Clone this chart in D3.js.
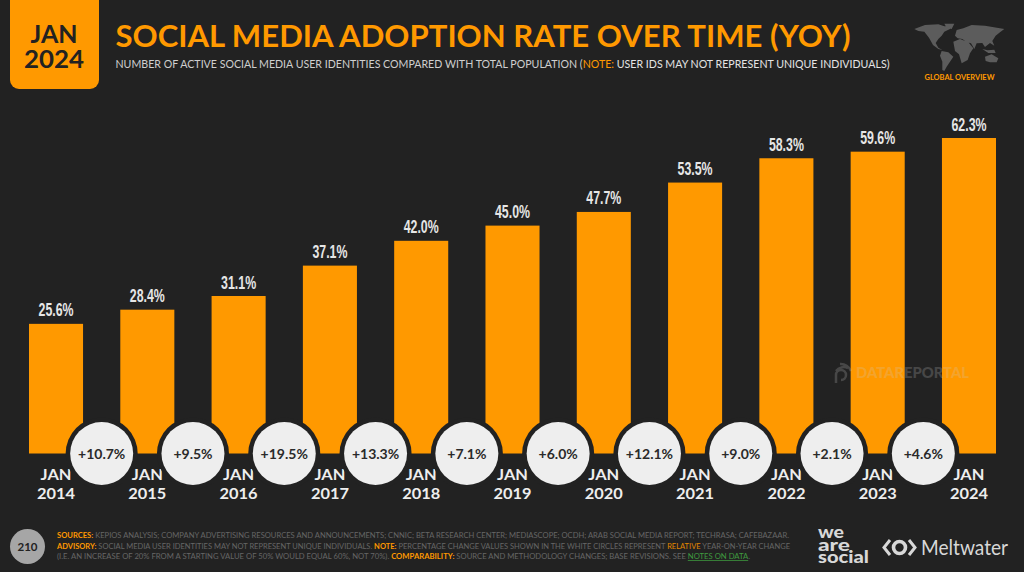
<!DOCTYPE html>
<html>
<head>
<meta charset="utf-8">
<script src="https://cdn.jsdelivr.net/npm/d3@7"></script>
<style>
  html, body { margin: 0; padding: 0; background: #222222; overflow: hidden; }
  svg { display: block; }
  text { font-family: Lato, "Open Sans", sans-serif; }
</style>
</head>
<body>
<svg id="chart" width="1024" height="572"></svg>
<script>
const years = ["2014", "2015", "2016", "2017", "2018", "2019", "2020", "2021", "2022", "2023", "2024"];
const adoption = [25.6, 28.4, 31.1, 37.1, 42.0, 45.0, 47.7, 53.5, 58.3, 59.6, 62.3];
const changes = ["+10.7%", "+9.5%", "+19.5%", "+13.3%", "+7.1%", "+6.0%", "+12.1%", "+9.0%", "+2.1%", "+4.6%"];

const orange = "#ff9900";
const bg = "#222222";
const svg = d3.select("#chart");

// header badge
svg.append("path")
  .attr("d", "M10,0H99V80a9,9 0 0 1 -9,9H19a9,9 0 0 1 -9,-9Z")
  .attr("fill", orange);
svg.append("text").attr("x", 54).attr("y", 43).attr("text-anchor", "middle")
  .attr("font-size", 25).attr("font-weight", 700).attr("fill", bg)
  .attr("textLength", 47).attr("lengthAdjust", "spacingAndGlyphs").text("JAN");
svg.append("text").attr("x", 54).attr("y", 68).attr("text-anchor", "middle")
  .attr("font-size", 25).attr("font-weight", 700).attr("fill", bg)
  .attr("textLength", 60).attr("lengthAdjust", "spacingAndGlyphs").text("2024");

// title
svg.append("text").attr("x", 115.5).attr("y", 47)
  .attr("font-size", 31).attr("font-weight", 700).attr("fill", orange)
  .attr("textLength", 735).attr("lengthAdjust", "spacingAndGlyphs")
  .text("SOCIAL MEDIA ADOPTION RATE OVER TIME (YOY)");

const sub = svg.append("text").attr("x", 115.5).attr("y", 67.5)
  .attr("font-size", 10.5).attr("fill", "#cfcfcf")
  .attr("textLength", 774).attr("lengthAdjust", "spacingAndGlyphs");
sub.append("tspan").text("NUMBER OF ACTIVE SOCIAL MEDIA USER IDENTITIES COMPARED WITH TOTAL POPULATION (");
sub.append("tspan").attr("fill", orange).text("NOTE:");
sub.append("tspan").attr("fill", "#e4e4e4").text(" USER IDS MAY NOT REPRESENT UNIQUE INDIVIDUALS)");

// world map, rough outline
svg.append("path")
  .attr("transform", "translate(905,15) scale(0.3333)")
  .attr("fill", "#5c5c5c")
  .attr("d", "M28,42 L60,30 L100,28 L118,34 L140,32 L135,42 L118,50 L110,62 L100,72 L92,84 L100,98 L112,105 L100,102 L84,90 L72,68 L58,50 L40,48 Z" +
    "M118,26 L148,26 L140,42 L125,38 Z" +
    "M110,108 L130,112 L145,125 L135,140 L125,155 L118,168 L112,165 L112,140 L105,122 Z" +
    "M150,62 L155,45 L175,40 L200,30 L240,32 L298,42 L285,52 L272,62 L262,78 L268,92 L255,84 L240,96 L232,84 L215,85 L208,102 L198,85 L186,82 L172,72 L158,70 Z" +
    "M145,80 L165,72 L190,82 L205,100 L195,115 L188,135 L170,145 L162,118 L150,108 Z" +
    "M240,125 L260,118 L280,130 L275,142 L255,142 L242,138 Z" +
    "M232,102 L248,106 L268,104 L272,114 L250,114 Z");
svg.append("text").attr("x", 959.5).attr("y", 80).attr("text-anchor", "middle")
  .attr("font-size", 6.8).attr("font-weight", 700).attr("fill", orange)
  .attr("textLength", 70).attr("lengthAdjust", "spacingAndGlyphs").text("GLOBAL OVERVIEW");

// chart
const x = d3.scaleBand().domain(years).range([29, 996]).paddingInner(0.408).paddingOuter(0);
const y = d3.scaleLinear().domain([0, 62.3]).range([453.5, 138]);
const step = x.step();

svg.append("g").selectAll("rect")
  .data(years)
  .join("rect")
  .attr("x", d => x(d))
  .attr("y", (d, i) => y(adoption[i]))
  .attr("width", x.bandwidth())
  .attr("height", (d, i) => y(0) - y(adoption[i]))
  .attr("fill", orange);

// value labels
svg.append("g").selectAll("text")
  .data(years)
  .join("text")
  .attr("x", d => x(d) + x.bandwidth() / 2)
  .attr("y", (d, i) => y(adoption[i]) - 7.5)
  .attr("text-anchor", "middle")
  .attr("font-family", '"Liberation Sans Narrow", "Liberation Sans", sans-serif')
  .style("font-family", '"Liberation Sans Narrow", "Liberation Sans", sans-serif')
  .attr("font-size", 18.5)
  .attr("font-weight", 700)
  .attr("fill", "#e6e6e6")
  .attr("textLength", 35)
  .attr("lengthAdjust", "spacingAndGlyphs")
  .text((d, i) => adoption[i].toFixed(1) + "%");

// category labels under the bars
const axis = svg.append("g").selectAll("g")
  .data(years)
  .join("g")
  .attr("transform", d => `translate(${x(d) + x.bandwidth() / 2},0)`);
axis.append("text").attr("y", 480).attr("text-anchor", "middle")
  .attr("font-size", 15.5).attr("font-weight", 700).attr("fill", "#eeeeee")
  .attr("textLength", 31).attr("lengthAdjust", "spacingAndGlyphs").text("JAN");
axis.append("text").attr("y", 499).attr("text-anchor", "middle")
  .attr("font-size", 15.5).attr("font-weight", 700).attr("fill", "#eeeeee")
  .attr("textLength", 38).attr("lengthAdjust", "spacingAndGlyphs").text(d => d);

// yoy circles between the bars
const bubbles = svg.append("g").selectAll("g")
  .data(changes)
  .join("g")
  .attr("transform", (d, i) => `translate(${x(years[i]) + x.bandwidth() / 2 + step / 2},${y(0)})`);
bubbles.append("circle").attr("r", 36).attr("fill", bg);
bubbles.append("circle").attr("r", 31.5).attr("fill", "#eeeeee");
bubbles.append("text").attr("y", 5).attr("text-anchor", "middle")
  .attr("font-size", 14).attr("font-weight", 700).attr("fill", "#2a2a2a").text(d => d);

// watermark
const mark = svg.append("g").attr("opacity", 0.22);
mark.append("text").attr("x", 856).attr("y", 378)
  .attr("font-size", 15).attr("font-weight", 900).attr("fill", "#cccccc")
  .attr("textLength", 113).attr("lengthAdjust", "spacingAndGlyphs").text("DATAREPORTAL");
mark.append("path").attr("fill", "none").attr("stroke", "#cccccc").attr("stroke-width", 2.5)
  .attr("d", "M836,383 V375 a5,5 0 1 1 5,5 M836,371 a10,10 0 0 1 12,-3 M840,364 a11,11 0 0 1 11,7");

// footer
svg.append("circle").attr("cx", 27.5).attr("cy", 546.5).attr("r", 17.5).attr("fill", "#a6a6a6");
svg.append("text").attr("x", 27.5).attr("y", 551).attr("text-anchor", "middle")
  .attr("font-size", 11.5).attr("font-weight", 700).attr("fill", bg).text("210");

const footerLines = [
  { y: 538, len: 732, parts: [["SOURCES:", "o"], [" KEPIOS ANALYSIS; COMPANY ADVERTISING RESOURCES AND ANNOUNCEMENTS; CNNIC; BETA RESEARCH CENTER; MEDIASCOPE; OCDH; ARAB SOCIAL MEDIA REPORT; TECHRASA; CAFEBAZAAR.", "g"]] },
  { y: 548.5, len: 733, parts: [["ADVISORY:", "o"], [" SOCIAL MEDIA USER IDENTITIES MAY NOT REPRESENT UNIQUE INDIVIDUALS. ", "g"], ["NOTE:", "o"], [" PERCENTAGE CHANGE VALUES SHOWN IN THE WHITE CIRCLES REPRESENT ", "g"], ["RELATIVE", "r"], [" YEAR-ON-YEAR CHANGE", "g"]] },
  { y: 559, len: 693, parts: [["(I.E. AN INCREASE OF 20% FROM A STARTING VALUE OF 50% WOULD EQUAL 60%, NOT 70%). ", "g"], ["COMPARABILITY:", "o"], [" SOURCE AND METHODOLOGY CHANGES; BASE REVISIONS. SEE ", "g"], ["NOTES ON DATA", "n"], [".", "g"]] }
];
const partStyle = {
  o: { fill: orange, weight: 700 },
  g: { fill: "#666666", weight: 400 },
  r: { fill: "#e08600", weight: 400 },
  n: { fill: "#3f9a3f", weight: 400 }
};
footerLines.forEach(line => {
  const t = svg.append("text").attr("x", 57).attr("y", line.y)
    .attr("font-size", 7.6).attr("textLength", line.len).attr("lengthAdjust", "spacingAndGlyphs");
  line.parts.forEach(([str, k]) => {
    t.append("tspan").attr("fill", partStyle[k].fill).attr("font-weight", partStyle[k].weight)
      .attr("text-decoration", k === "n" ? "underline" : null).text(str);
  });
});

// logos
[["we", 538, 26], ["are", 550.5, 32], ["social", 563, 51]].forEach(([w, yy, len]) => {
  svg.append("text").attr("x", 818).attr("y", yy)
    .attr("font-size", 17).attr("font-weight", 900).attr("fill", "#d8d8d8")
    .attr("textLength", len).attr("lengthAdjust", "spacingAndGlyphs").text(w);
});
const mw = svg.append("g").attr("fill", "none").attr("stroke", "#d8d8d8");
mw.append("circle").attr("cx", 899.5).attr("cy", 547.5).attr("r", 6).attr("stroke-width", 3.6);
mw.append("path").attr("stroke-width", 3)
  .attr("d", "M890,540 L884,547.5 L890,555 M909,540 L915,547.5 L909,555");
svg.append("text").attr("x", 921).attr("y", 554.5)
  .attr("font-size", 21).attr("fill", "#d8d8d8")
  .attr("textLength", 87).attr("lengthAdjust", "spacingAndGlyphs").text("Meltwater");
</script>
</body>
</html>
